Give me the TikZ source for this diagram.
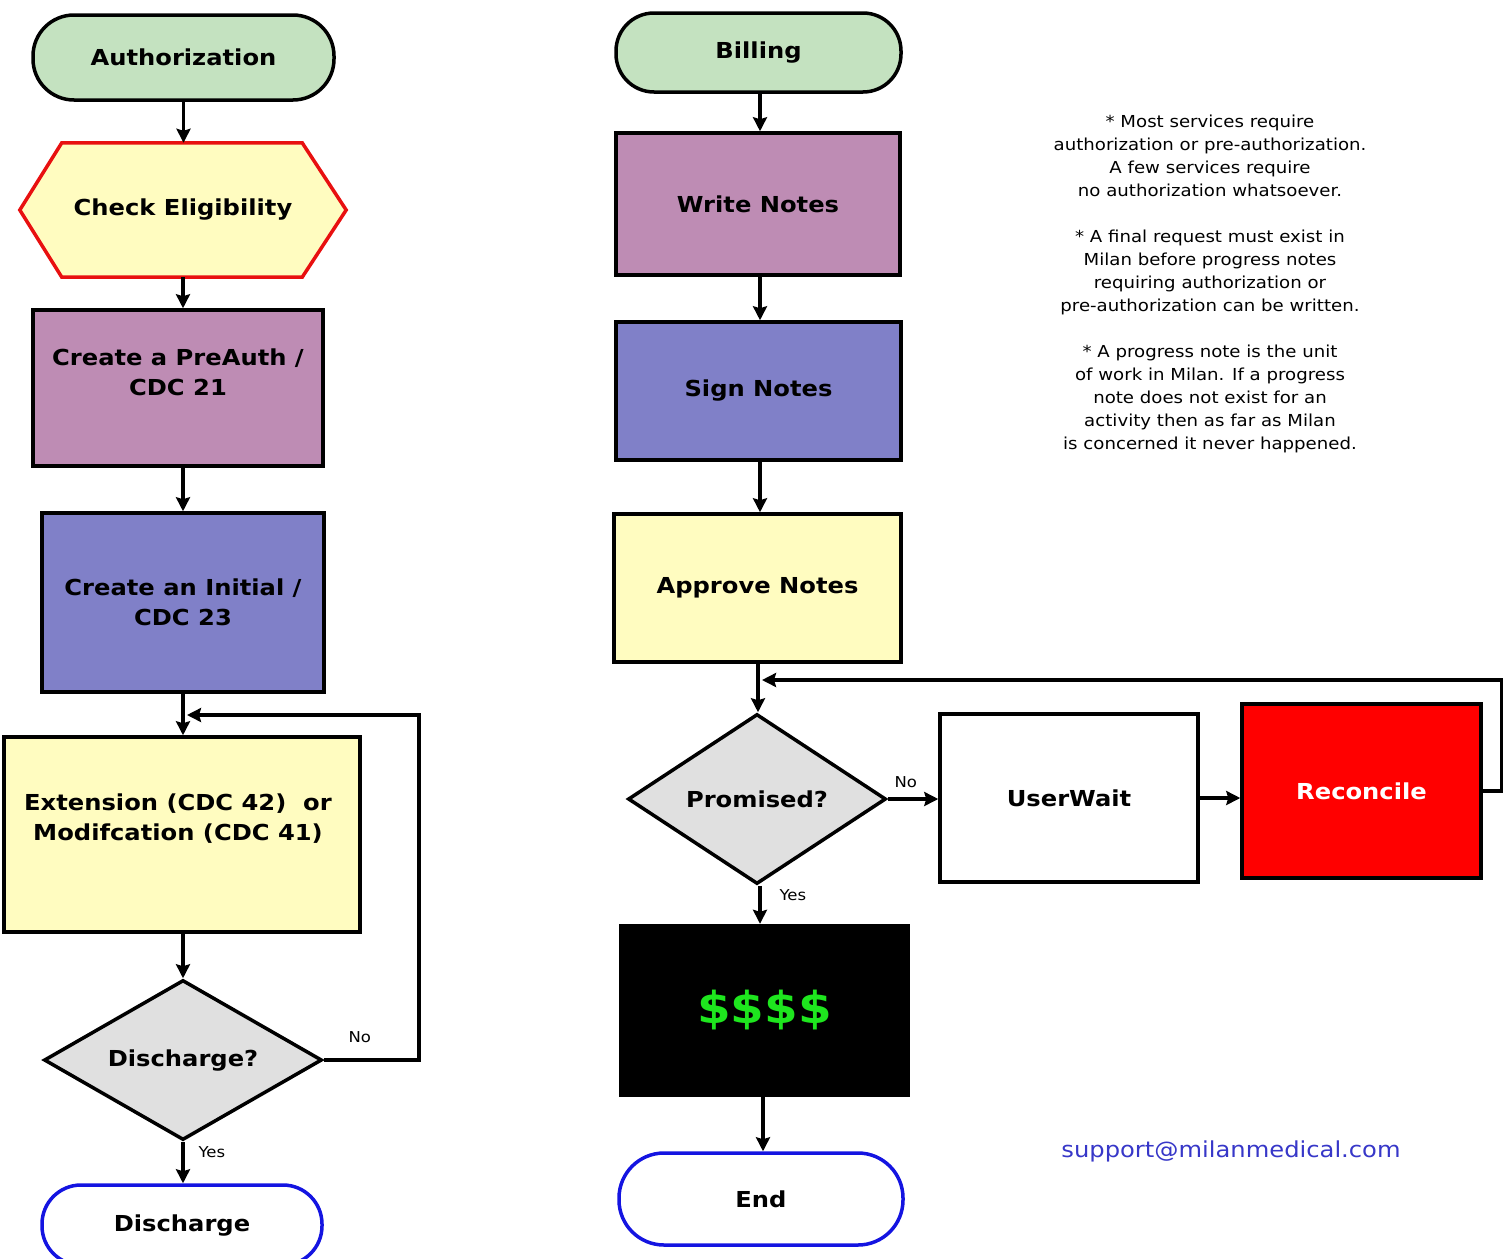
\documentclass[tikz,border=0pt]{standalone}
\usepackage{fontspec}
\setmainfont{DejaVu Sans}[FakeStretch=1.1]
\usetikzlibrary{shapes.geometric,arrows.meta,calc,backgrounds}
\definecolor{termgreen}{RGB}{196,226,192}
\definecolor{paleyellow}{RGB}{255,252,192}
\definecolor{mauve}{RGB}{190,140,180}
\definecolor{slateblue}{RGB}{128,128,200}
\definecolor{diagray}{RGB}{224,224,224}
\definecolor{hexred}{RGB}{232,16,16}
\definecolor{termblue}{RGB}{20,20,225}
\definecolor{moneygreen}{RGB}{30,230,30}
\definecolor{mailblue}{RGB}{55,55,200}
\tikzset{
  box/.style={draw=black, line width=3.5pt, rectangle, inner sep=0pt},
  term/.style={draw=black, line width=3.5pt, rectangle, inner sep=0pt},
  dia/.style={draw=black, line width=3.5pt, diamond, inner sep=0pt, fill=diagray},
  lbl/.style={font=\fontsize{22}{30}\selectfont\bfseries, align=center},
  small/.style={font=\fontsize{15}{18}\selectfont},
  arr/.style={line width=3.5pt, -{Stealth[length=14pt,width=14pt,inset=2pt]}},
}
\begin{document}
\begin{tikzpicture}[x=1pt,y=-1pt]
\useasboundingbox (0,0) rectangle (1503,1258);

% ---------- Left column ----------
\node[term, fill=termgreen, rounded corners=41pt, minimum width=301pt, minimum height=85pt, lbl] (auth) at (183.5,57.5) {Authorization};

\node[lbl, minimum width=326pt, minimum height=134pt, inner sep=0pt] (elig) at (183,210) {Check Eligibility};
\begin{scope}[on background layer]
\draw[draw=hexred, fill=paleyellow, line width=3.5pt]
  (elig.west) -- ($(elig.north west)+(42,0)$) -- ($(elig.north east)+(-44,0)$)
  -- (elig.east) -- ($(elig.south east)+(-44,0)$) -- ($(elig.south west)+(42,0)$) -- cycle;
\end{scope}

\node[box, fill=mauve, minimum width=290pt, minimum height=156pt] (preauth) at (178,388) {};
\node[lbl] (preauthtxt) at (178,372) {Create a PreAuth /\\CDC 21};

\node[box, fill=slateblue, minimum width=282pt, minimum height=179pt, lbl] (initial) at (183,602.5) {Create an Initial /\\CDC 23};

\node[box, fill=paleyellow, minimum width=356pt, minimum height=195pt] (ext) at (182,834.5) {};
\node[lbl] (exttxt) at (178,819) {Extension (CDC 42)~~or\\Modifcation (CDC 41)};

\node[dia, shape aspect=1.74, minimum width=278pt, minimum height=160pt, lbl] (disq) at (183,1060) {Discharge?};

\node[term, draw=termblue, fill=white, rounded corners=39pt, minimum width=280pt, minimum height=80pt, lbl] (disch) at (182,1225) {Discharge};

\draw[arr] (auth.south) -- (auth.south |- elig.north);
\draw[arr] (elig.south) -- (elig.south |- preauth.north);
\draw[arr] (initial.north |- preauth.south) -- (initial.north);
\draw[arr] (initial.south) -- (initial.south |- ext.north);
\draw[arr] (disq.north |- ext.south) -- (disq.north);
\draw[arr] (disq.south) -- (disq.south |- disch.north);
\coordinate (jl) at (187,715);
\draw[arr] (disq.east) -- ++(95,0) |- (jl);
\node[small, anchor=west] (nol) at (345,1037) {No};
\node[small, anchor=west] (yesl) at (195,1152) {Yes};

% ---------- Right column ----------
\node[term, fill=termgreen, rounded corners=38pt, minimum width=285pt, minimum height=79pt, lbl] (bill) at (758.5,52.5) {Billing};
\node[box, fill=mauve, minimum width=284pt, minimum height=142pt, lbl] (write) at (758,204) {Write Notes};
\node[box, fill=slateblue, minimum width=285pt, minimum height=138pt, lbl] (sign) at (758.5,391) {Sign Notes};
\node[box, fill=paleyellow, minimum width=287pt, minimum height=148pt, lbl] (approve) at (757.5,588) {Approve Notes};
\node[dia, shape aspect=1.52, minimum width=258pt, minimum height=170pt, lbl] (prom) at (757,799) {Promised?};
\node[box, fill=white, minimum width=258pt, minimum height=168pt, lbl] (wait) at (1069,798) {UserWait};
\node[box, fill=red, minimum width=239pt, minimum height=174pt, lbl, text=white] (recon) at (1361.5,791) {Reconcile};
\node[rectangle, fill=black, inner sep=0pt, minimum width=291pt, minimum height=173pt, font=\fontsize{44}{50}\selectfont\bfseries, text=moneygreen] (money) at (764.5,1010.5) {\$\$\$\$};
\node[term, draw=termblue, fill=white, rounded corners=45pt, minimum width=284pt, minimum height=92pt, lbl] (endt) at (761,1199) {End};

\draw[arr] (bill.south -| 760,0) -- (write.north -| 760,0);
\draw[arr] (write.south -| 760,0) -- (sign.north -| 760,0);
\draw[arr] (sign.south -| 760,0) -- (approve.north -| 760,0);
\draw[arr] (approve.south -| 758,0) -- (prom.north -| 758,0);
\draw[arr] (prom.east) -- (prom.east -| wait.west);
\draw[arr] (wait.east) -- (wait.east -| recon.west);
\coordinate (jr) at (762,680);
\draw[arr] (recon.east) -- ++(19,0) |- (jr);
\draw[arr] (prom.south -| 760,0) -- (money.north -| 760,0);
\draw[arr] (money.south -| 763,0) -- (endt.north -| 763,0);
\node[small, anchor=west] (nor) at (891,782) {No};
\node[small, anchor=west] (yesr) at (776,895) {Yes};

% ---------- Notes ----------
\node[font=\fontsize{16.5}{23}\selectfont, align=center] (notes) at (1210,284) {%
* Most services require\\
authorization or pre-authorization.\\
A few services require\\
no authorization whatsoever.\\[23pt]
* A final request must exist in\\
Milan before progress notes\\
requiring authorization or\\
pre-authorization can be written.\\[23pt]
* A progress note is the unit\\
of work in Milan. If a progress\\
note does not exist for an\\
activity then as far as Milan\\
is concerned it never happened.};

\node[font=\fontsize{22}{28}\selectfont, text=mailblue] (mail) at (1231,1151) {support@milanmedical.com};
\end{tikzpicture}
\end{document}
